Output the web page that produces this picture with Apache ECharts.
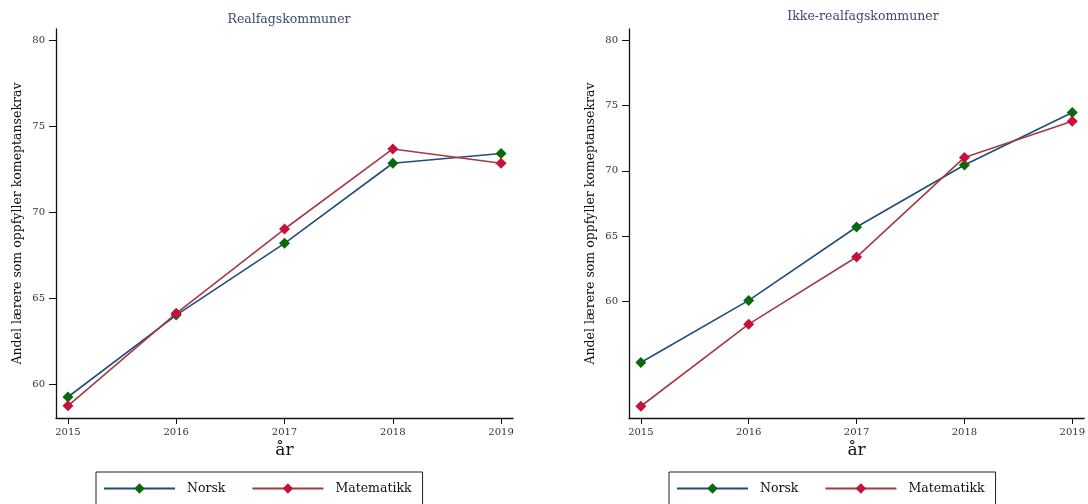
<!DOCTYPE html>
<html>
<head>
<meta charset="utf-8">
<script src="https://cdn.jsdelivr.net/npm/echarts@6/dist/echarts.min.js"></script>
<style>
html,body{margin:0;padding:0;background:#fff;}
#chart{width:1088px;height:504px;}
</style>
</head>
<body>
<div id="chart"></div>
<script>
const years = [2015, 2016, 2017, 2018, 2019];
const realNorsk = [59.27, 64.03, 68.2, 72.85, 73.42];
const realMat = [58.76, 64.13, 69.03, 73.68, 72.85];
const ikkeNorsk = [55.32, 60.08, 65.7, 70.45, 74.48];
const ikkeMat = [51.97, 58.26, 63.4, 71.03, 73.8];
const yTicks = [60, 65, 70, 75, 80];
const titles = ['Realfagskommuner', 'Ikke-realfagskommuner'];
const yName = 'Andel lærere som oppfyller komeptansekrav';
const xName = 'år';
const seriesNames = ['Norsk', 'Matematikk'];

const FONT = 'DejaVu Serif';
const navy = '#1f4e79', green = '#0a6a0a', lineRed = '#a33a45', markRed = '#c8103c';

function pairs(vals){ return years.map((y,i)=>[y, vals[i]]); }

const grids = [
  {left:56, top:29, width:457, height:389},
  {left:629, top:29, width:457, height:389}
];
const yRanges = [[58.05, 80.65],[51.07, 80.87]];

function xAxis(i){
  return {
    type:'value', gridIndex:i, min:2014.89, max:2019.11,
    name:xName, nameLocation:'middle', nameGap:18,
    nameTextStyle:{fontFamily:FONT, fontSize:17, color:'#111'},
    axisLine:{lineStyle:{color:'#111', width:1.3}},
    axisTick:{customValues:years, length:6, lineStyle:{color:'#111'}},
    axisLabel:{customValues:years, fontFamily:FONT, fontSize:10, color:'#333', margin:9, formatter:v=>String(v)},
    splitLine:{show:false}
  };
}
function yAxis(i){
  return {
    type:'value', gridIndex:i, min:yRanges[i][0], max:yRanges[i][1],
    name:yName, nameLocation:'middle', nameGap:32,
    nameTextStyle:{fontFamily:FONT, fontSize:12.5, color:'#111'},
    axisLine:{show:true, lineStyle:{color:'#111', width:1.3}},
    axisTick:{show:true, customValues:yTicks, length:7, lineStyle:{color:'#111'}},
    axisLabel:{customValues:yTicks, fontFamily:FONT, fontSize:10, color:'#333', margin:11, formatter:v=>String(v)},
    splitLine:{show:false}
  };
}
function line(name, vals, i, lc, mc){
  return {
    name, type:'line', xAxisIndex:i, yAxisIndex:i, data:pairs(vals),
    symbol:'diamond', symbolSize:11, showAllSymbol:true,
    lineStyle:{color:lc, width:1.6}, itemStyle:{color:mc},
    emphasis:{disabled:true}, animation:false, z:2
  };
}
function legend(left){
  return {
    left, top:472, orient:'horizontal',
    data:seriesNames,
    itemWidth:71, itemHeight:13, itemGap:26,
    padding:[10, 11, 30, 7],
    borderColor:'#222', borderWidth:1,
    textStyle:{fontFamily:FONT, fontSize:12.5, color:'#111', padding:[0,0,0,7]},
    selectedMode:false
  };
}

const chart = echarts.init(document.getElementById('chart'), null, {renderer:'canvas'});
chart.setOption({
  backgroundColor:'#fff',
  animation:false,
  title:[
    {text:titles[0], left:284, top:8, textAlign:'center', textStyle:{fontFamily:FONT, fontSize:12.5, fontWeight:'normal', color:'#3c4a6e'}},
    {text:titles[1], left:858, top:5, textAlign:'center', textStyle:{fontFamily:FONT, fontSize:12.5, fontWeight:'normal', color:'#3c4a6e'}}
  ],
  grid:grids,
  xAxis:[xAxis(0), xAxis(1)],
  yAxis:[yAxis(0), yAxis(1)],
  legend:[legend(96), legend(669)],
  series:[
    line(seriesNames[0], realNorsk, 0, navy, green),
    line(seriesNames[1], realMat, 0, lineRed, markRed),
    line(seriesNames[0], ikkeNorsk, 1, navy, green),
    line(seriesNames[1], ikkeMat, 1, lineRed, markRed)
  ]
});
</script>
</body>
</html>
